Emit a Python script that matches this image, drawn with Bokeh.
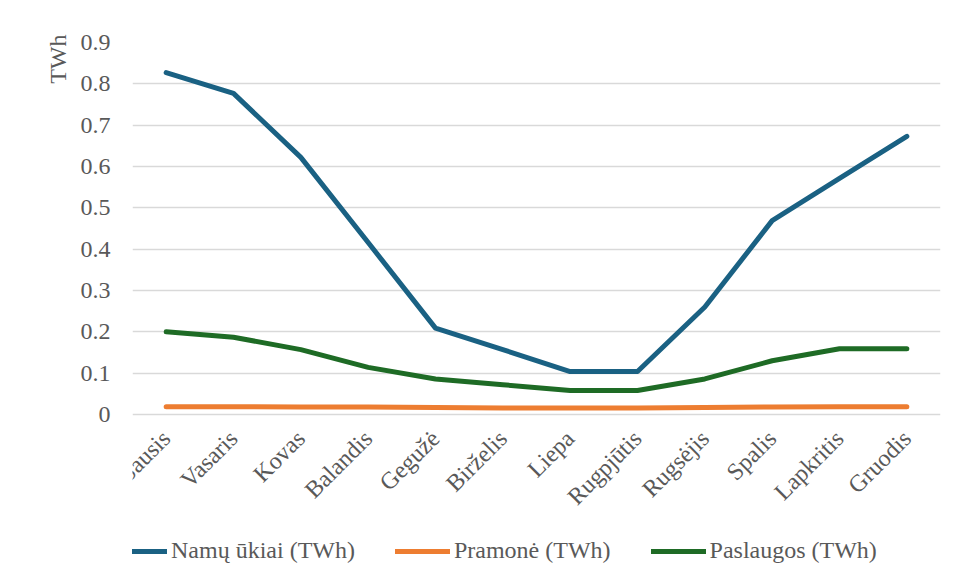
from bokeh.plotting import figure
from bokeh.models import Range1d, Legend, LegendItem, Title, FactorRange
from bokeh.embed import file_html
from bokeh.resources import INLINE
import math

months = ["Sausis", "Vasaris", "Kovas", "Balandis", "Gegužė", "Birželis",
          "Liepa", "Rugpjūtis", "Rugsėjis", "Spalis", "Lapkritis", "Gruodis"]
namu = [0.827, 0.777, 0.622, 0.416, 0.209, 0.157, 0.104, 0.104, 0.260, 0.469, 0.571, 0.673]
pramone = [0.019, 0.019, 0.018, 0.018, 0.017, 0.016, 0.016, 0.016, 0.017, 0.018, 0.019, 0.019]
paslaugos = [0.200, 0.187, 0.157, 0.114, 0.086, 0.072, 0.058, 0.058, 0.086, 0.130, 0.159, 0.159]
series_names = ["Namų ūkiai (TWh)", "Pramonė (TWh)", "Paslaugos (TWh)"]
colors = ["#1a6183", "#ed7d31", "#1e6b25"]
y_ticks = [0, 0.1, 0.2, 0.3, 0.4, 0.5, 0.6, 0.7, 0.8, 0.9]

FONT = "Liberation Serif"
TXT = "#595959"
FS = "24px"

# frame extends below the value area so that month labels and legend sit inside it
PLOT_H = 372
FRAME_H = 530
Y_MAX = 0.9
Y_MIN = -Y_MAX * (FRAME_H - PLOT_H) / PLOT_H

p = figure(frame_width=808, frame_height=FRAME_H, x_range=FactorRange(*months),
           y_range=Range1d(Y_MIN, Y_MAX),
           output_backend="svg", toolbar_location=None,
           min_border_left=132, min_border_right=14, min_border_top=42, min_border_bottom=0)
p.outline_line_color = None
p.background_fill_color = "white"
p.border_fill_color = "white"

renderers = []
for vals, c in zip([namu, pramone, paslaugos], colors):
    r = p.line(months, vals, line_color=c, line_width=5, line_join="round", line_cap="round")
    renderers.append(r)

# grid
p.xgrid.grid_line_color = None
p.ygrid.grid_line_color = "#d9d9d9"
p.ygrid.grid_line_width = 1.5
p.yaxis.ticker = y_ticks
p.yaxis.major_label_overrides = {0: "0"}

for ax in [p.xaxis[0], p.yaxis[0]]:
    ax.axis_line_color = None
    ax.major_tick_line_color = None
    ax.minor_tick_line_color = None
    ax.major_label_text_font = FONT
    ax.major_label_text_font_size = FS
    ax.major_label_text_color = TXT
p.yaxis.major_label_standoff = 16
p.xaxis.major_label_orientation = math.pi / 4
p.xaxis.major_label_standoff = 14
p.xaxis.fixed_location = 0

t = Title(text="TWh", align="right", text_font=FONT, text_font_size=FS,
          text_color=TXT, text_font_style="normal", offset=-8, standoff=14)
p.add_layout(t, "left")

legend = Legend(items=[LegendItem(label=n, renderers=[r]) for n, r in zip(series_names, renderers)],
                orientation="horizontal", location=(-20, 8),
                label_text_font=FONT, label_text_font_size=FS, label_text_color=TXT,
                glyph_width=55, glyph_height=24, spacing=40, label_standoff=4,
                border_line_color=None, background_fill_alpha=0, margin=0, padding=0)
p.add_layout(legend, "center")

open("out.html", "w").write(file_html(p, INLINE))
